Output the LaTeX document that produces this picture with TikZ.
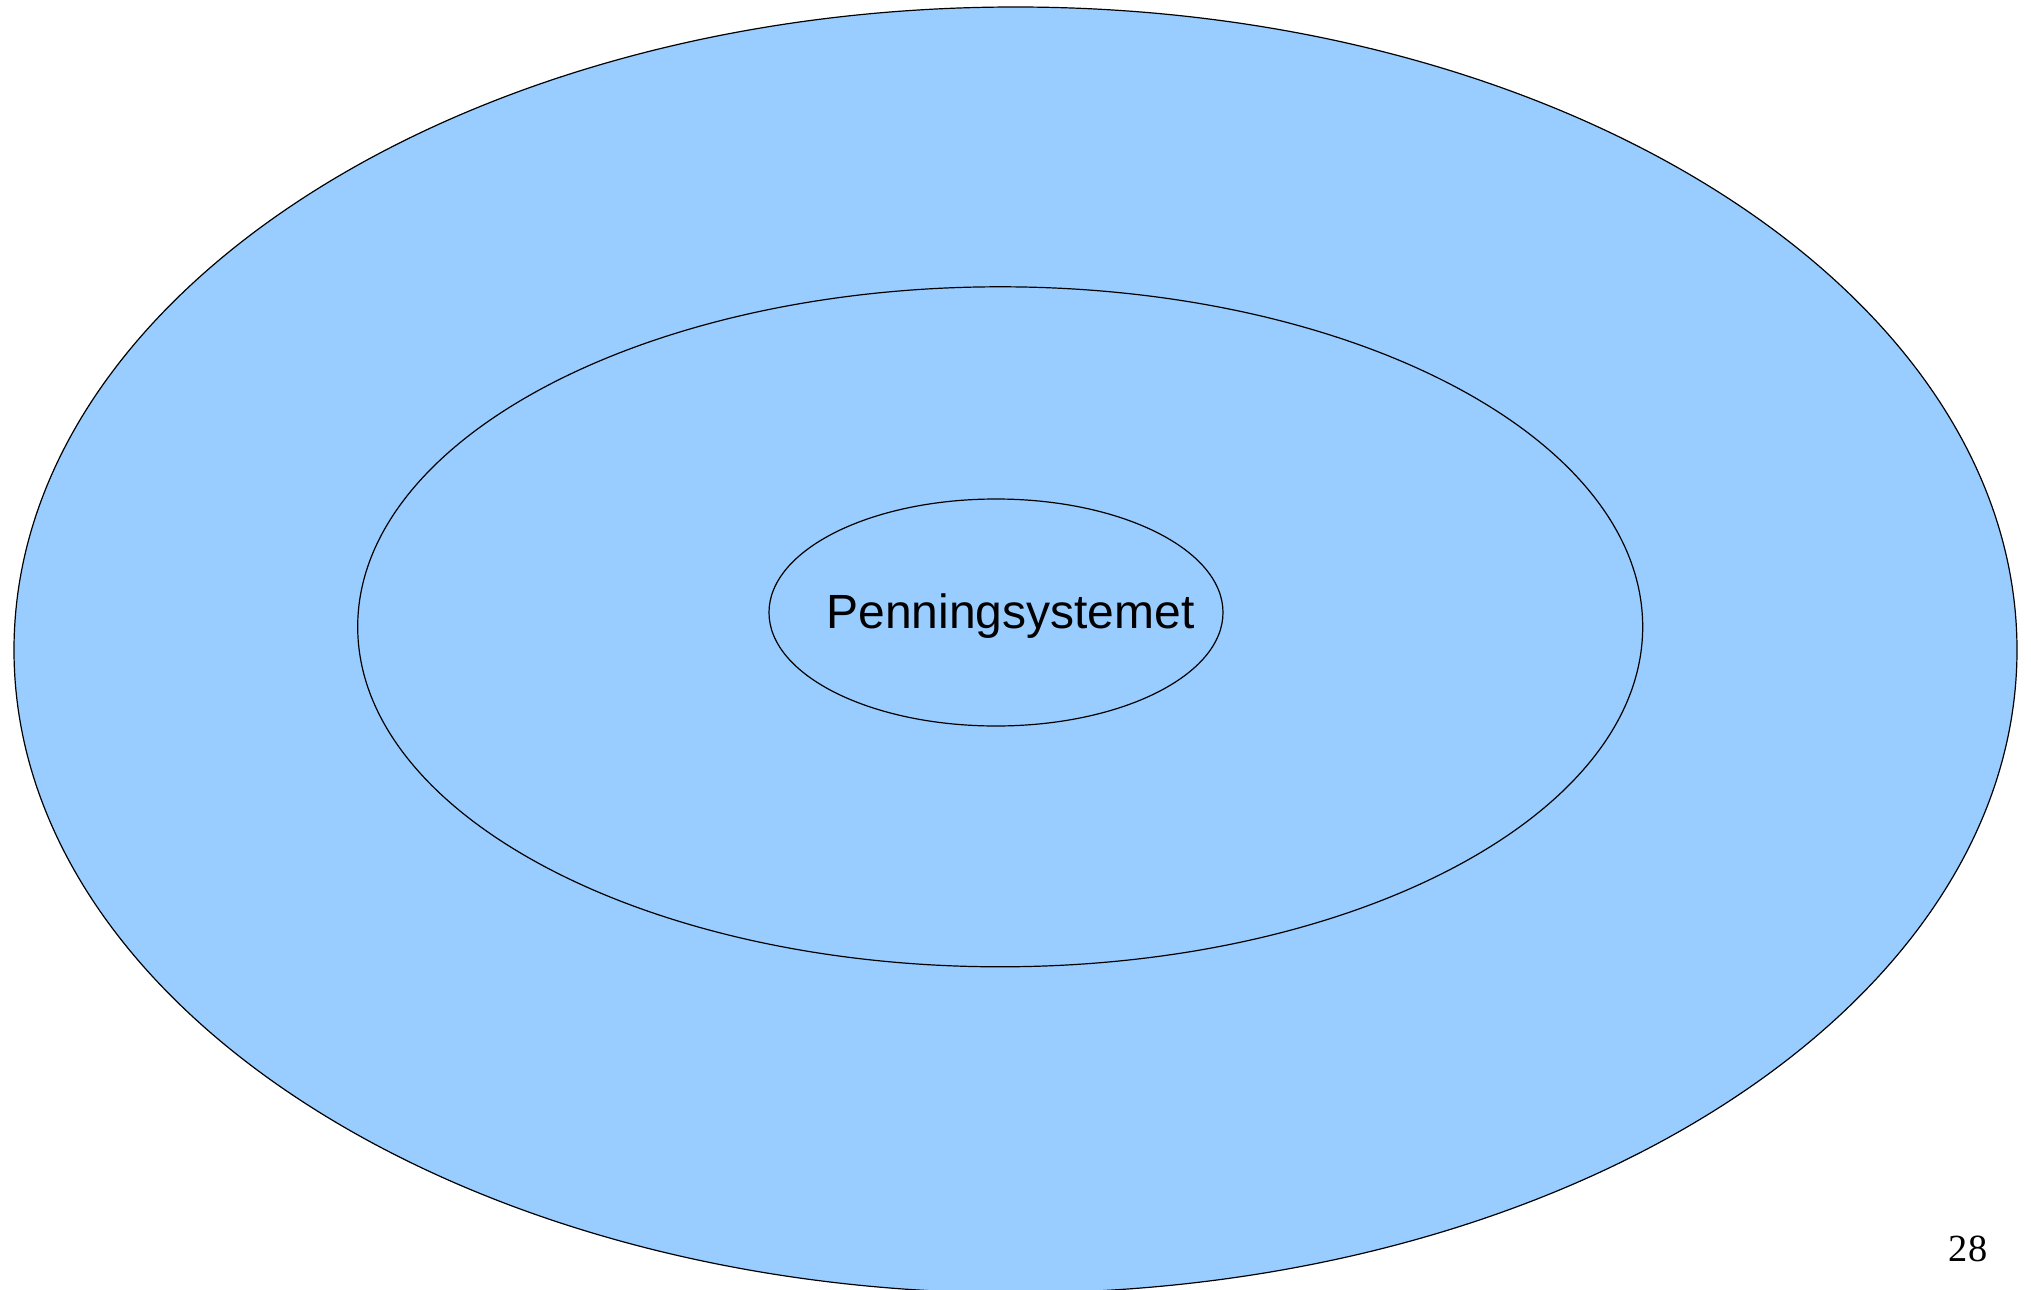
\documentclass[tikz,border=0pt]{standalone}
\usepackage{fontspec}
\setmainfont{Liberation Sans}
\newfontfamily\timesfont{Liberation Serif}
\usetikzlibrary{shapes.geometric}
\definecolor{ringblue}{HTML}{99CCFF}
\begin{document}
\begin{tikzpicture}[x=0.5pt,y=-0.5pt,
  ring/.style={ellipse,draw=black,line width=0.6pt,fill=ringblue,inner sep=0pt}]
\useasboundingbox (0,0) rectangle (2031,1290);
\clip (0,0) rectangle (2031,1290);
\node[ring,minimum width=1001.5pt,minimum height=643pt] (outer) at (1015.5,650) {};
\node[ring,minimum width=642.5pt,minimum height=340pt] (middle) at (1000.2,626.8) {};
\node[ring,minimum width=227pt,minimum height=113.5pt] (inner) at (996,612.5) {};
\node[anchor=base,inner sep=0pt,font=\fontsize{24}{28}\selectfont] (label) at (1010.5,628) {Penningsystemet};
\node[anchor=base,inner sep=0pt,font=\timesfont\fontsize{19.2}{22}\selectfont] (page) at (1968,1261) {28};
\end{tikzpicture}
\end{document}
